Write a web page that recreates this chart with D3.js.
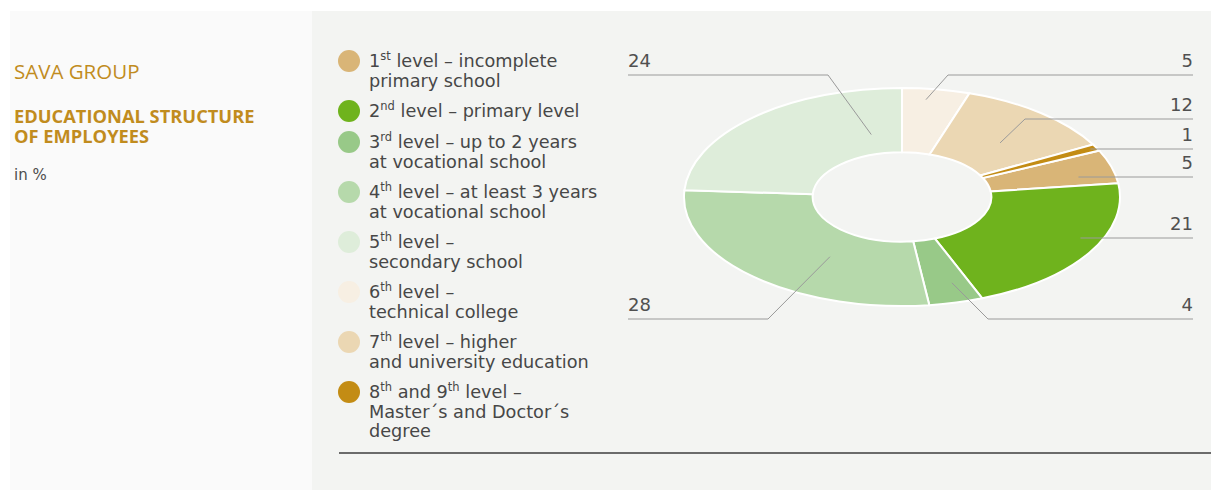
<!DOCTYPE html>
<html>
<head>
<meta charset="utf-8">
<script src="https://cdn.jsdelivr.net/npm/d3@7"></script>
<style>
  html, body { margin: 0; padding: 0; background: #ffffff; }
  svg { display: block; font-family: "DejaVu Sans", "Noto Sans", sans-serif; }
</style>
</head>
<body>
<svg id="chart" width="1211" height="490"></svg>
<script>
// Education levels in legend order
const levels = ["1", "2", "3", "4", "5", "6", "7", "8"];
const levelSup = ["st", "nd", "rd", "th", "th", "th", "th", "th"];
// First line follows the level number and its suffix
const legendLines = [
  [" level – incomplete", "primary school"],
  [" level – primary level"],
  [" level – up to 2 years", "at vocational school"],
  [" level – at least 3 years", "at vocational school"],
  [" level –", "secondary school"],
  [" level –", "technical college"],
  [" level – higher", "and university education"],
  [" and 9|th| level –", "Master´s and Doctor´s", "degree"]
];
// Share of employees, in %
const shares = [5, 21, 4, 28, 24, 5, 12, 1];
const colors = ["#d9b577", "#6fb31d", "#98c988", "#b6d9ab", "#deedda", "#f7efe3", "#ebd7b3", "#c38c14"];

const svg = d3.select("#chart");

// Panels
svg.append("rect").attr("x", 10).attr("y", 11).attr("width", 302).attr("height", 479).attr("fill", "#fafafa");
svg.append("rect").attr("x", 312).attr("y", 11).attr("width", 899).attr("height", 479).attr("fill", "#f3f4f2");

// Titles
const gold = "#c18c1e";
svg.append("text").attr("x", 14).attr("y", 79).attr("fill", gold)
  .attr("font-family", "Open Sans").attr("font-size", 20.5).text("SAVA GROUP");
const head = svg.append("text").attr("x", 14).attr("y", 123).attr("fill", gold)
  .attr("font-family", "Open Sans").attr("font-size", 18.3).attr("font-weight", "bold");
head.append("tspan").attr("x", 14).text("EDUCATIONAL STRUCTURE");
head.append("tspan").attr("x", 14).attr("dy", 20).text("OF EMPLOYEES");
svg.append("text").attr("x", 14).attr("y", 180).attr("fill", "#4d4d4d")
  .attr("font-size", 15).text("in %");

// Legend
const legendRowY = [67, 117, 148, 198, 248, 298, 348, 398];
const lineH = 19.5;
const textColor = "#474747";
const legend = svg.append("g");
levels.forEach((lv, i) => {
  const g = legend.append("g");
  g.append("circle").attr("cx", 349).attr("cy", legendRowY[i] - 6).attr("r", 11).attr("fill", colors[i]);
  const t = g.append("text").attr("x", 369).attr("y", legendRowY[i])
    .attr("font-size", 17.7).attr("fill", textColor);
  legendLines[i].forEach((ln, j) => {
    if (j === 0) {
      t.append("tspan").attr("x", 369).text(lv);
      t.append("tspan").attr("font-size", 11.5).attr("dy", -7).text(levelSup[i]);
      // parts between bars are set as superscripts
      ln.split("|").forEach((part, k) => {
        if (k % 2 === 1) {
          t.append("tspan").attr("font-size", 11.5).attr("dy", -7).text(part);
        } else {
          t.append("tspan").attr("dy", 7).text(part);
        }
      });
    } else {
      t.append("tspan").attr("x", 369).attr("y", legendRowY[i] + j * lineH).text(ln);
    }
  });
});

// Bottom rule
svg.append("line").attr("x1", 339).attr("x2", 1211).attr("y1", 453).attr("y2", 453)
  .attr("stroke", "#6b6b6b").attr("stroke-width", 2);

// Donut, drawn as a circle and flattened vertically
const cx = 902, cy = 197, rx = 218, ry = 109, innerFrac = 0.41;
const total = d3.sum(shares);
// Levels 6 to 8 sit right of twelve o'clock, so the ring starts with level 1 after them
const offset = d3.sum(shares.slice(5)) / total * 2 * Math.PI;
const pie = d3.pie().sort(null).value(d => d)
  .startAngle(offset).endAngle(offset + 2 * Math.PI);
const arcs = pie(shares);
const arc = d3.arc().innerRadius(rx * innerFrac).outerRadius(rx);

const ring = svg.append("g").attr("transform", `translate(${cx},${cy}) scale(1,${ry / rx})`);
ring.selectAll("path").data(arcs).join("path")
  .attr("d", arc)
  .attr("fill", (d, i) => colors[i])
  .attr("stroke", "#ffffff")
  .attr("stroke-width", 2)
  .attr("vector-effect", "non-scaling-stroke");

// Leader lines and value labels
// t: position along the slice (0..1), r: radial position relative to outer radius
const labelLayout = [
  { side: "right", lineY: 177, t: 0.69, r: 0.83 },
  { side: "right", lineY: 238, t: 0.42, r: 0.90 },
  { side: "right", lineY: 319, elbowX: 988, t: 0.375, r: 0.82 },
  { side: "left",  lineY: 319, elbowX: 768, t: 0.38, r: 0.64 },
  { side: "left",  lineY: 75,  elbowX: 828, t: 0.84, r: 0.59 },
  { side: "right", lineY: 75,  elbowX: 948, t: 0.39, r: 0.90 },
  { side: "right", lineY: 119, elbowX: 1025, t: 0.56, r: 0.67 },
  { side: "right", lineY: 149, t: 0.5, r: 0.97 }
];
const leftX = 628, rightX = 1193;
const labels = svg.append("g");
arcs.forEach((a, i) => {
  const L = labelLayout[i];
  const ang = a.startAngle + (a.endAngle - a.startAngle) * L.t;
  const ax = cx + rx * L.r * Math.sin(ang);
  const ay = cy - ry * L.r * Math.cos(ang);
  const edgeX = L.side === "right" ? rightX : leftX;
  const pts = L.elbowX !== undefined
    ? [[edgeX, L.lineY], [L.elbowX, L.lineY], [ax, ay]]
    : [[edgeX, L.lineY], [ax, L.lineY]];
  labels.append("path").attr("d", d3.line()(pts))
    .attr("fill", "none").attr("stroke", "#9a9a9a").attr("stroke-width", 1);
  labels.append("text")
    .attr("x", edgeX).attr("y", L.lineY - 8)
    .attr("text-anchor", L.side === "right" ? "end" : "start")
    .attr("font-size", 18).attr("fill", "#505050")
    .text(d3.format("d")(shares[i]));
});
</script>
</body>
</html>
